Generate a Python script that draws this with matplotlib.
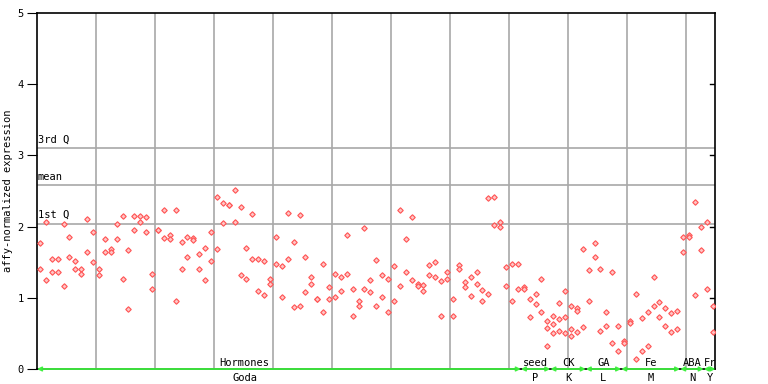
import numpy as np
import matplotlib
matplotlib.use('Agg')
import matplotlib.pyplot as plt

# two replicate values per sample, samples in plot order
rep1 = [1.77, 2.06, 1.54, 1.54, 2.03, 1.85, 1.51, 1.41, 2.10, 1.92,
        1.41, 1.82, 1.68, 2.03, 2.15, 1.67, 2.15, 2.15, 2.13, 1.33,
        1.95, 2.24, 1.88, 2.24, 1.78, 1.86, 1.84, 1.61, 1.70, 1.92,
        2.41, 2.33, 2.31, 2.52, 2.27, 1.70, 2.17, 1.55, 1.51, 1.26,
        1.86, 1.44, 2.19, 1.78, 2.16, 1.57, 1.29, 0.98, 1.47, 1.15,
        1.33, 1.29, 1.88, 1.13, 0.95, 1.98, 1.25, 1.53, 1.32, 1.26,
        1.44, 2.23, 1.82, 2.14, 1.19, 1.18, 1.46, 1.50, 1.23, 1.36,
        0.98, 1.46, 1.22, 1.29, 1.36, 1.11, 2.40, 2.41, 2.06, 1.43,
        1.47, 1.48, 1.15, 0.99, 1.05, 1.26, 0.67, 0.75, 0.92, 1.09,
        0.88, 0.85, 1.68, 1.39, 1.77, 1.40, 0.80, 1.36, 0.61, 0.40,
        0.67, 1.05, 0.71, 0.80, 1.29, 0.94, 0.85, 0.78, 0.82, 1.85,
        1.88, 2.34, 1.99, 2.06, 0.89]
rep2 = [1.41, 1.25, 1.36, 1.36, 1.16, 1.57, 1.40, 1.33, 1.65, 1.50,
        1.32, 1.65, 1.64, 1.82, 1.27, 0.84, 1.95, 2.06, 1.92, 1.12,
        1.95, 1.84, 1.82, 0.95, 1.40, 1.57, 1.81, 1.41, 1.25, 1.51,
        1.68, 2.05, 2.31, 2.07, 1.32, 1.27, 1.55, 1.09, 1.04, 1.19,
        1.47, 1.01, 1.55, 0.87, 0.89, 1.08, 1.20, 0.98, 0.80, 0.99,
        1.01, 1.09, 1.34, 0.74, 0.89, 1.13, 1.08, 0.88, 1.01, 0.80,
        0.96, 1.16, 1.36, 1.25, 1.16, 1.09, 1.32, 1.29, 0.75, 1.27,
        0.75, 1.40, 1.15, 1.02, 1.19, 0.95, 1.06, 2.02, 1.99, 1.16,
        0.96, 1.12, 1.12, 0.73, 0.91, 0.80, 0.33, 0.50, 0.54, 0.50,
        0.46, 0.52, 0.59, 0.96, 1.57, 0.54, 0.60, 0.36, 0.25, 0.36,
        0.64, 0.14, 0.25, 0.32, 0.89, 0.73, 0.60, 0.52, 0.56, 1.64,
        1.85, 1.04, 1.67, 1.13, 0.52]
# third points at a few samples
extra_idx = [86, 87, 88, 89, 90, 91]
extra_val = [0.57, 0.63, 0.70, 0.73, 0.56, 0.81]

q1, mean, q3 = 2.04, 2.58, 3.10

groups = ['Hormones', 'seed', 'CK', 'GA', 'Fe', 'ABA', 'Fr']
subs = ['Goda', 'P', 'K', 'L', 'M', 'N', 'Y']
g_start = [0, 82, 87, 93, 99, 109, 113]
g_end = [81, 86, 92, 98, 108, 112, 114]

n = len(rep1)
idx = np.arange(n)

fig = plt.figure(figsize=(7.68, 3.84), dpi=100)
ax = fig.add_axes([37/768, 15/384, 678/768, 356/384])
mono = 'DejaVu Sans Mono'

xmin, xmax = -0.5, (715 - 40) / 5.9
for gx in np.arange(9.5, xmax, 10):
    ax.axvline(gx, color='#a8a8a8', lw=1.2, zorder=1)
for yv, lab in [(q3, '3rd Q'), (mean, 'mean'), (q1, '1st Q')]:
    ax.axhline(yv, color='#a8a8a8', lw=1.2, zorder=1)
    ax.text(xmin + 0.1, yv + 0.05, lab, fontsize=7.5, family=mono, va='bottom', ha='left')

mk = dict(ls='none', marker='D', ms=2.8, mfc='#ffc4c4', mec='#ff5252', mew=0.8, zorder=3)
ax.plot(idx, rep1, **mk)
ax.plot(idx, rep2, **mk)
ax.plot(extra_idx, extra_val, **mk)

# group arrows along the bottom
for s, e in zip(g_start, g_end):
    ax.annotate('', xy=(s - 0.5, 0), xytext=(e + 0.5, 0),
                arrowprops=dict(arrowstyle='<->', color='#40f040', lw=1.3,
                                shrinkA=0, shrinkB=0, mutation_scale=6),
                annotation_clip=False, zorder=4)
hx = [34.7, None, None, None, None, None, None]
for i, (g, sname) in enumerate(zip(groups, subs)):
    cx = (g_start[i] + g_end[i]) / 2 if hx[i] is None else hx[i]
    ax.text(cx, 0.02, g, fontsize=7.5, family=mono, ha='center', va='bottom')
    ax.text(cx, -0.06, sname, fontsize=7.5, family=mono, ha='center', va='top')

ax.set_xlim(xmin, xmax)
ax.set_ylim(0, 5)
ax.set_xticks([])
ax.set_yticks(range(6))
ax.tick_params(axis='y', direction='out', length=7, pad=2.5, labelsize=7.5, left=True, right=False)
for lbl in ax.get_yticklabels():
    lbl.set_family(mono)
for yv in range(1, 5):
    ax.plot([xmax - 0.8, xmax], [yv, yv], color='black', lw=1, zorder=2)
ax.set_ylabel('affy-normalized expression', fontsize=7.5, family=mono)
ax.yaxis.set_label_coords(-0.036, 0.5)
for sp in ax.spines.values():
    sp.set_linewidth(1.2)

fig.savefig('out.png', dpi=100)
